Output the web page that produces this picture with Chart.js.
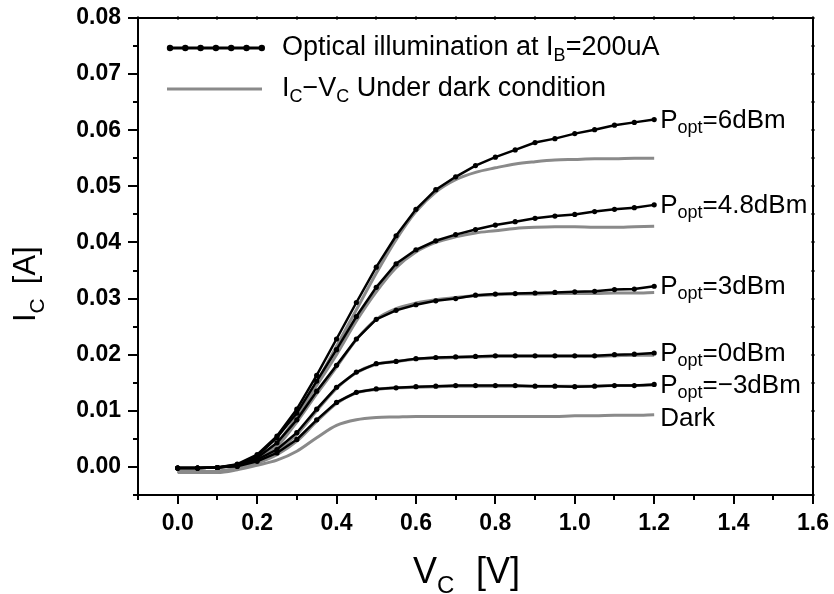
<!DOCTYPE html>
<html>
<head>
<meta charset="utf-8">
<script src="https://cdn.jsdelivr.net/npm/chart.js@4.4.1/dist/chart.umd.min.js"></script>
<style>
  html, body { margin: 0; padding: 0; background: #fff; }
  #wrap { width: 834px; height: 594px; }
</style>
</head>
<body>
<div id="wrap"><canvas id="chart" width="834" height="594"></canvas></div>
<script>
// collector voltage (V)
const vc = [0, 0.05, 0.1, 0.15, 0.2, 0.25, 0.3, 0.35, 0.4, 0.45, 0.5, 0.55, 0.6,
  0.65, 0.7, 0.75, 0.8, 0.85, 0.9, 0.95, 1.0, 1.05, 1.1, 1.15, 1.2]

// optical illumination at IB=200uA (black, with markers)
const opt6 = [-0.0002, -0.0002, -0.0001, 0.0005, 0.0022, 0.0055, 0.0103, 0.0163, 0.0228, 0.0293, 0.0356, 0.0412, 0.0459,
  0.0494, 0.0517, 0.0537, 0.0552, 0.0565, 0.0578, 0.0585, 0.0594, 0.0601, 0.0609, 0.0614, 0.0619]
const opt48 = [-0.0002, -0.0002, -0.0001, 0.0004, 0.0019, 0.0052, 0.0096, 0.0153, 0.0209, 0.0268, 0.0320, 0.0362, 0.0387,
  0.0403, 0.0414, 0.0423, 0.0431, 0.0437, 0.0443, 0.0447, 0.0450, 0.0455, 0.0459, 0.0462, 0.0467]
const opt3 = [-0.0002, -0.0002, -0.0001, 0.0003, 0.0016, 0.0043, 0.0084, 0.0135, 0.0181, 0.0228, 0.0263, 0.0279, 0.0289,
  0.0296, 0.0300, 0.0306, 0.0308, 0.0309, 0.0310, 0.0311, 0.0312, 0.0313, 0.0316, 0.0317, 0.0322]
const opt0 = [-0.0002, -0.0002, -0.0001, 0.0002, 0.0013, 0.0031, 0.0061, 0.0103, 0.0142, 0.0169, 0.0184, 0.0188, 0.0193,
  0.0195, 0.0196, 0.0197, 0.0198, 0.0198, 0.0198, 0.0198, 0.0198, 0.0198, 0.0200, 0.0201, 0.0203]
const optM3 = [-0.0002, -0.0002, -0.0001, 0.0001, 0.0010, 0.0025, 0.0049, 0.0084, 0.0115, 0.0133, 0.0139, 0.0141, 0.0143,
  0.0144, 0.0145, 0.0145, 0.0145, 0.0145, 0.0144, 0.0144, 0.0143, 0.0144, 0.0145, 0.0145, 0.0147]

// IC-VC under dark condition (grey)
const dark6 = [-0.0008, -0.0008, -0.0008, -0.0002, 0.0012, 0.0042, 0.0090, 0.0150, 0.0215, 0.0280, 0.0345, 0.0405, 0.0455,
  0.0490, 0.0512, 0.0525, 0.0533, 0.0540, 0.0544, 0.0547, 0.0548, 0.0549, 0.0549, 0.0550, 0.0550]
const dark48 = [-0.0008, -0.0008, -0.0008, -0.0002, 0.0011, 0.0040, 0.0088, 0.0145, 0.0200, 0.0260, 0.0312, 0.0355, 0.0383,
  0.0400, 0.0410, 0.0417, 0.0421, 0.0425, 0.0427, 0.0428, 0.0428, 0.0427, 0.0427, 0.0428, 0.0429]
const dark3 = [-0.0008, -0.0008, -0.0008, -0.0003, 0.0010, 0.0036, 0.0080, 0.0130, 0.0178, 0.0227, 0.0263, 0.0282, 0.0292,
  0.0298, 0.0302, 0.0305, 0.0307, 0.0308, 0.0308, 0.0309, 0.0309, 0.0309, 0.0310, 0.0310, 0.0311]
const dark0 = [-0.0008, -0.0008, -0.0008, -0.0003, 0.0009, 0.0028, 0.0058, 0.0100, 0.0140, 0.0168, 0.0183, 0.0188, 0.0192,
  0.0194, 0.0195, 0.0196, 0.0197, 0.0197, 0.0197, 0.0197, 0.0197, 0.0197, 0.0198, 0.0199, 0.0199]
const darkM3 = [-0.0008, -0.0008, -0.0008, -0.0003, 0.0007, 0.0022, 0.0046, 0.0081, 0.0113, 0.0132, 0.0138, 0.0141, 0.0142,
  0.0143, 0.0144, 0.0144, 0.0144, 0.0144, 0.0144, 0.0144, 0.0144, 0.0144, 0.0145, 0.0145, 0.0146]
const darkOnly = [-0.0010, -0.0010, -0.0010, -0.0005, 0.0003, 0.0012, 0.0028, 0.0052, 0.0074, 0.0084, 0.0088, 0.0089, 0.0090,
  0.0090, 0.0090, 0.0090, 0.0090, 0.0090, 0.0090, 0.0090, 0.0091, 0.0091, 0.0092, 0.0092, 0.0093]

// curve end labels: [main text, subscript, rest]
const curveLabels = [
  ['P', 'opt', '=6dBm'],
  ['P', 'opt', '=4.8dBm'],
  ['P', 'opt', '=3dBm'],
  ['P', 'opt', '=0dBm'],
  ['P', 'opt', '=\u22123dBm'],
  ['Dark', '', '']
]

const xTickValues = [0, 0.2, 0.4, 0.6, 0.8, 1.0, 1.2, 1.4, 1.6]
const xTickLabels = ['0.0', '0.2', '0.4', '0.6', '0.8', '1.0', '1.2', '1.4', '1.6']
const yTickValues = [0, 0.01, 0.02, 0.03, 0.04, 0.05, 0.06, 0.07, 0.08]
const yTickLabels = ['0.00', '0.01', '0.02', '0.03', '0.04', '0.05', '0.06', '0.07', '0.08']

const FONT = "'Liberation Sans', Arial, sans-serif"
const GREY = '#8a8a8a'

const pts = ys => ys.map((y, i) => ({ x: vc[i], y: y }))

const blackSet = (ys) => ({
  data: pts(ys), borderColor: '#000', backgroundColor: '#000', borderWidth: 2.5,
  pointRadius: 2.6, pointHoverRadius: 2.6, pointBorderWidth: 0, tension: 0, order: 1
})
const greySet = (ys) => ({
  data: pts(ys), borderColor: GREY, borderWidth: 3, pointRadius: 0,
  cubicInterpolationMode: 'monotone', order: 2
})

// text with one subscript
function richText(ctx, parts, x, y, size) {
  ctx.font = size + 'px ' + FONT
  ctx.fillText(parts[0], x, y)
  x += ctx.measureText(parts[0]).width
  if (parts[1]) {
    ctx.font = Math.round(size * 0.68) + 'px ' + FONT
    ctx.fillText(parts[1], x, y + size * 0.28)
    x += ctx.measureText(parts[1]).width
  }
  if (parts[2]) {
    ctx.font = size + 'px ' + FONT
    ctx.fillText(parts[2], x, y)
    x += ctx.measureText(parts[2]).width
  }
  return x
}

const decor = {
  id: 'decor',
  afterDraw(chart) {
    const ctx = chart.ctx
    const a = chart.chartArea
    const xs = chart.scales.x
    const ys = chart.scales.y
    ctx.save()
    ctx.strokeStyle = '#000'
    ctx.fillStyle = '#000'
    ctx.lineWidth = 2
    ctx.strokeRect(a.left, a.top, a.right - a.left, a.bottom - a.top)

    // ticks every 0.1 V / 0.005 A
    ctx.lineWidth = 2
    for (let k = -1; k <= 16; k++) {
      const px = Math.round(xs.getPixelForValue(k / 10))
      const len = k % 2 === 0 ? 9 : 5
      ctx.beginPath()
      ctx.moveTo(px, a.bottom); ctx.lineTo(px, a.bottom + len)
      ctx.moveTo(px, a.top - 1.5); ctx.lineTo(px, a.top + 1.5)
      ctx.stroke()
    }
    for (let k = -1; k <= 16; k++) {
      const py = Math.round(ys.getPixelForValue(k * 0.005))
      const len = k % 2 === 0 ? 10 : 5
      ctx.beginPath()
      ctx.moveTo(a.left - len, py); ctx.lineTo(a.left, py)
      ctx.moveTo(a.right - 1.5, py); ctx.lineTo(a.right + 1.5, py)
      ctx.stroke()
    }

    // curve end labels
    ctx.textBaseline = 'middle'
    ctx.textAlign = 'left'
    const labelled = [0, 1, 2, 3, 4, 10]
    labelled.forEach((di, i) => {
      const d = chart.data.datasets[di].data
      const last = d[d.length - 1]
      const px = xs.getPixelForValue(last.x) + 6
      const py = ys.getPixelForValue(last.y) + (i === 5 ? 4 : 1)
      richText(ctx, curveLabels[i], px, py, 26)
    })

    // legend
    ctx.textBaseline = 'middle'
    ctx.strokeStyle = '#000'
    ctx.lineWidth = 3
    ctx.beginPath(); ctx.moveTo(170, 48); ctx.lineTo(262, 48); ctx.stroke()
    for (let i = 0; i < 7; i++) {
      ctx.beginPath(); ctx.arc(170 + i * 15.3, 48, 3.2, 0, Math.PI * 2); ctx.fill()
    }
    ctx.strokeStyle = GREY
    ctx.beginPath(); ctx.moveTo(167, 89); ctx.lineTo(262, 89); ctx.stroke()
    ctx.fillStyle = '#000'
    let x = richText(ctx, ['Optical illumination at I', 'B', '=200uA'], 282, 48, 27)
    x = richText(ctx, ['I', 'C', ''], 282, 89, 27)
    x = richText(ctx, ['\u2212V', 'C', ' Under dark condition'], x, 89, 27)

    // axis titles
    ctx.textBaseline = 'alphabetic'
    x = richText(ctx, ['V', 'C', ''], 413, 583, 36)
    ctx.font = '36px ' + FONT
    ctx.fillText('[V]', 476, 583)

    ctx.translate(35, 322)
    ctx.rotate(-Math.PI / 2)
    x = richText(ctx, ['I', 'C', ''], 0, 0, 31)
    ctx.font = '31px ' + FONT
    ctx.fillText('[A]', x + 14, 0)
    ctx.restore()
  }
}

new Chart(document.getElementById('chart'), {
  type: 'line',
  data: {
    datasets: [
      blackSet(opt6), blackSet(opt48), blackSet(opt3), blackSet(opt0), blackSet(optM3),
      greySet(dark6), greySet(dark48), greySet(dark3), greySet(dark0), greySet(darkM3), greySet(darkOnly)
    ]
  },
  options: {
    responsive: false,
    animation: false,
    layout: { padding: { top: 18, right: 21, left: 0, bottom: 0 } },
    plugins: { legend: { display: false }, tooltip: { enabled: false } },
    scales: {
      x: {
        type: 'linear', min: -0.1, max: 1.6,
        grid: { display: false }, border: { display: false },
        afterBuildTicks: s => { s.ticks = xTickValues.map(v => ({ value: v })) },
        afterFit: s => { s.height = 99; s.paddingLeft = 0; s.paddingRight = 0 },
        ticks: {
          color: '#000', padding: 7, maxRotation: 0, autoSkip: false,
          font: { family: FONT, size: 23, weight: 'bold' },
          callback: (v) => xTickLabels[xTickValues.findIndex(t => Math.abs(t - v) < 1e-9)]
        }
      },
      y: {
        type: 'linear', min: -0.005, max: 0.08,
        grid: { display: false }, border: { display: false },
        afterBuildTicks: s => { s.ticks = yTickValues.map(v => ({ value: v })) },
        afterFit: s => { s.width = 138; s.paddingTop = 0; s.paddingBottom = 0 },
        ticks: {
          color: '#000', padding: 9, autoSkip: false,
          font: { family: FONT, size: 23, weight: 'bold' },
          callback: (v) => yTickLabels[yTickValues.findIndex(t => Math.abs(t - v) < 1e-9)]
        }
      }
    }
  },
  plugins: [decor]
})
</script>
</body>
</html>
